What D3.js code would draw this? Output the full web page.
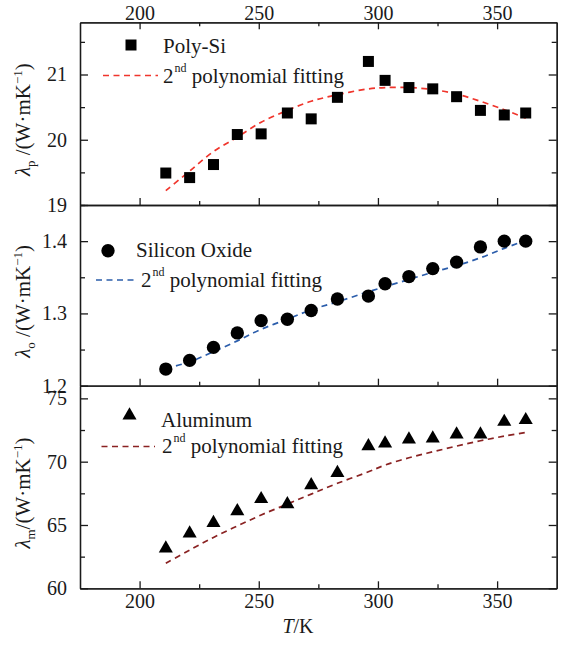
<!DOCTYPE html>
<html>
<head>
<meta charset="utf-8">
<script src="https://cdn.jsdelivr.net/npm/d3@7"></script>
<style>
  body { margin: 0; background: #fff; }
  svg, svg text, svg tspan { font-family: "Liberation Serif", "Times New Roman", Tinos, "DejaVu Serif", "Noto Serif", FreeSerif, serif !important; }
</style>
</head>
<body>
<script>
// temperatures (K), shared by all three panels
const temps = [211, 221, 231, 241, 251, 262, 272, 283, 296, 303, 313, 323, 333, 343, 353, 362];

const polySi = [19.49, 19.42, 19.62, 20.08, 20.09, 20.41, 20.32, 20.65, 21.2, 20.91, 20.8, 20.78, 20.66, 20.45, 20.38, 20.41];
const polySiFit = [19.22, 19.52, 19.82, 20.04, 20.27, 20.45, 20.59, 20.69, 20.78, 20.8, 20.8, 20.77, 20.7, 20.59, 20.46, 20.33];

const siOx = [1.223, 1.235, 1.253, 1.273, 1.29, 1.292, 1.304, 1.32, 1.324, 1.341, 1.351, 1.362, 1.371, 1.392, 1.4, 1.4];
const siOxFit = [1.224, 1.233, 1.247, 1.262, 1.278, 1.292, 1.305, 1.316, 1.33, 1.337, 1.347, 1.357, 1.366, 1.377, 1.39, 1.401];

const alum = [63.15, 64.34, 65.17, 66.1, 67.05, 66.65, 68.15, 69.12, 71.23, 71.44, 71.76, 71.84, 72.16, 72.16, 73.15, 73.29];
const alumFit = [61.97, 63.02, 64.02, 64.92, 65.79, 66.65, 67.44, 68.29, 69.2, 69.73, 70.31, 70.78, 71.23, 71.65, 72.02, 72.31];

const seriesNames = ['Poly-Si', 'Silicon Oxide', 'Aluminum'];
const ySubs = ['p', 'o', 'm'];
const xMajor = [200, 250, 300, 350];
const xMinor = [225, 275, 325];
const yMajor = [[19, 20, 21], [1.2, 1.3, 1.4], [60, 65, 70, 75]];
const yMinor = [[19.5, 20.5, 21.5], [1.25, 1.35, 1.45], [62.5, 67.5, 72.5]];
const yDomains = [[19, 21.8], [1.2, 1.45], [60, 76]];

const width = 572;
const height = 649;
const x0 = 80;
const x1 = 556.7;
const panelTops = [22.3, 205, 385.7];
const panelBottoms = [205, 385.7, 588.3];
const fitColors = ['#f0352c', '#2b5dab', '#8a2222'];
const symbols = [d3.symbolSquare, d3.symbolCircle, d3.symbolTriangle];
const symbolSizes = [121, 140, 86];
const tickFormats = ['d', '.1f', 'd'];
const ink = '#1a1a1a';
const serif = '"Liberation Serif", "Times New Roman", Tinos, "DejaVu Serif", serif';

// legend placement per panel
const legendLayout = [
  { mx: 131, my: 45, tx: 163, ty: 53.3, lx1: 103, lx2: 158, ly: 75.5, fx: 163, fy: 83.3 },
  { mx: 108, my: 250.7, tx: 136, ty: 257, lx1: 96, lx2: 135, ly: 280, fx: 141, fy: 287.3 },
  { mx: 129.5, my: 415.5, tx: 161, ty: 426.5, lx1: 101.5, lx2: 155, ly: 446.5, fx: 162, fy: 453.3 },
];

const svg = d3.select('body').append('svg').attr('width', width).attr('height', height)
  .style('font-family', serif, 'important');

const xScale = d3.scaleLinear().domain([175, 375]).range([x0, x1]);

const seriesData = [polySi, siOx, alum];
const fitData = [polySiFit, siOxFit, alumFit];

function styleAxis(g, size) {
  g.attr('font-family', serif)
    .attr('font-size', size)
    .style('color', ink);
  g.selectAll('text').style('font-family', serif, 'important');
  g.selectAll('path, line').attr('stroke-width', 1.3);
}

function drawPanel(i) {
  const yScale = d3.scaleLinear().domain(yDomains[i]).range([panelBottoms[i], panelTops[i]]);
  const isLast = i === 2;

  // left axis
  svg.append('g').attr('transform', `translate(${x0},0)`)
    .call(d3.axisLeft(yScale).tickValues(yMajor[i]).tickSizeInner(-8).tickSizeOuter(0).tickPadding(13)
      .tickFormat(d3.format(tickFormats[i])))
    .call(styleAxis, 20);
  svg.append('g').attr('transform', `translate(${x0},0)`)
    .call(d3.axisLeft(yScale).tickValues(yMinor[i]).tickSizeInner(-5).tickSizeOuter(0).tickFormat(''))
    .call(styleAxis, 20);

  // right axis
  svg.append('g').attr('transform', `translate(${x1},0)`)
    .call(d3.axisRight(yScale).tickValues(yMajor[i]).tickSizeInner(-8).tickSizeOuter(0).tickFormat(''))
    .call(styleAxis, 20);
  svg.append('g').attr('transform', `translate(${x1},0)`)
    .call(d3.axisRight(yScale).tickValues(yMinor[i]).tickSizeInner(-5).tickSizeOuter(0).tickFormat(''))
    .call(styleAxis, 20);

  // bottom axis (labels only on the last panel)
  svg.append('g').attr('transform', `translate(0,${panelBottoms[i]})`)
    .call(d3.axisBottom(xScale).tickValues(xMajor).tickSizeInner(-7).tickSizeOuter(0).tickPadding(6)
      .tickFormat(isLast ? d3.format('d') : ''))
    .call(styleAxis, 20);
  svg.append('g').attr('transform', `translate(0,${panelBottoms[i]})`)
    .call(d3.axisBottom(xScale).tickValues(xMinor).tickSizeInner(-4).tickSizeOuter(0).tickFormat(''))
    .call(styleAxis, 20);

  if (i === 0) {
    svg.append('g').attr('transform', `translate(0,${panelTops[0]})`)
      .call(d3.axisTop(xScale).tickValues(xMajor).tickSizeInner(-7).tickSizeOuter(0).tickPadding(2)
        .tickFormat(d3.format('d')))
      .call(styleAxis, 20);
    svg.append('g').attr('transform', `translate(0,${panelTops[0]})`)
      .call(d3.axisTop(xScale).tickValues(xMinor).tickSizeInner(-4).tickSizeOuter(0).tickFormat(''))
      .call(styleAxis, 20);
  }

  // fitted curve
  const fitPoints = temps.map((t, j) => [t, fitData[i][j]]);
  const line = d3.line()
    .x(d => xScale(d[0]))
    .y(d => yScale(d[1]))
    .curve(d3.curveCatmullRom);

  svg.append('path')
    .datum(fitPoints)
    .attr('d', line)
    .attr('fill', 'none')
    .attr('stroke', fitColors[i])
    .attr('stroke-width', 1.7)
    .attr('stroke-dasharray', '6,4.5');

  // measured points
  const sym = d3.symbol().type(symbols[i]).size(symbolSizes[i]);
  svg.append('g')
    .selectAll('path')
    .data(temps.map((t, j) => [t, seriesData[i][j]]))
    .enter()
    .append('path')
    .attr('d', sym)
    .attr('transform', d => `translate(${xScale(d[0])},${yScale(d[1])})`)
    .attr('fill', '#000');

  // legend
  const L = legendLayout[i];
  svg.append('path')
    .attr('d', sym)
    .attr('transform', `translate(${L.mx},${L.my})`)
    .attr('fill', '#000');
  svg.append('text')
    .attr('x', L.tx).attr('y', L.ty)
    .attr('font-size', 21).attr('fill', ink)
    .style('font-family', serif, 'important')
    .text(seriesNames[i]);
  svg.append('line')
    .attr('x1', L.lx1).attr('x2', L.lx2).attr('y1', L.ly).attr('y2', L.ly)
    .attr('stroke', fitColors[i]).attr('stroke-width', 1.7).attr('stroke-dasharray', '6,4.5');
  const ft = svg.append('text')
    .attr('x', L.fx).attr('y', L.fy)
    .attr('font-size', 21).attr('fill', ink)
    .style('font-family', serif, 'important');
  ft.append('tspan').text('2');
  ft.append('tspan').attr('font-size', 12).attr('dy', -11).attr('dx', 1).text('nd');
  ft.append('tspan').attr('dy', 11).text('\u00a0polynomial fitting');

  // y label
  const cy = (panelTops[i] + panelBottoms[i]) / 2 + 6;
  const yl = svg.append('text')
    .attr('transform', `translate(29.5,${cy}) rotate(-90)`)
    .attr('text-anchor', 'middle')
    .attr('font-size', 21).attr('fill', ink)
    .style('font-family', serif, 'important');
  yl.append('tspan').attr('font-style', 'italic').text('\u03bb');
  yl.append('tspan').attr('font-size', 13).attr('dy', 5).text(ySubs[i]);
  yl.append('tspan').attr('dy', -5).text((i === 2 ? '' : '\u00a0') + '/(W\u00b7mK');
  yl.append('tspan').attr('font-size', 13).attr('dy', -8).text('\u22121');
  yl.append('tspan').attr('dy', 8).text(')');
}

[0, 1, 2].forEach(drawPanel);

// x title
const xt = svg.append('text')
  .attr('x', 298).attr('y', 633)
  .attr('text-anchor', 'middle')
  .attr('font-size', 20).attr('fill', ink)
  .style('font-family', serif, 'important');
xt.append('tspan').attr('font-style', 'italic').text('T');
xt.append('tspan').text('/K');
</script>
</body>
</html>
